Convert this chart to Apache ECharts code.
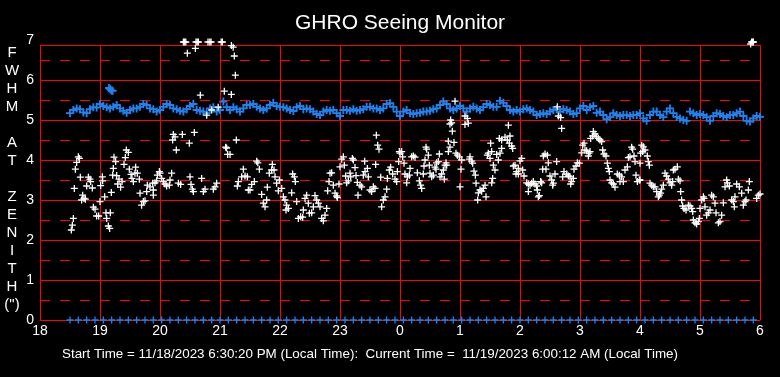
<!DOCTYPE html>
<html style="height: 100%">
<head>
<meta charset="utf-8">
</head>
<body style="height: 100%; margin: 0; background: #000">
<div id="container" style="width: 780px; height: 377px"></div>
<script src="https://cdn.jsdelivr.net/npm/echarts/dist/echarts.min.js"></script>
<script>
// hours since 18:00 of the start day (24 = midnight)
var hourLabels = ['18', '19', '20', '21', '22', '23', '0', '1', '2', '3', '4', '5', '6'];
var yNameLines = ['F', 'W', 'H', 'M', '', 'A', 'T', '', 'Z', 'E', 'N', 'I', 'T', 'H', '(")'];
var titleText = 'GHRO Seeing Monitor';
var footText = 'Start Time = 11/18/2023 6:30:20 PM (Local Time):  Current Time =  11/19/2023 6:00:12 AM (Local Time)';
var frameTop = 6.875;   // upper edge of the plot frame
var frameTopLabel = '7';

// white points: [hour, fwhm]
var seeing = [
  [18.639,4.08],[18.656,4.04],[18.611,3.94],[18.589,3.77],[18.672,3.57],[18.806,3.57],[18.833,3.52],[18.844,3.46],
  [18.572,3.29],[18.778,3.35],[18.872,3.30],[18.711,3.12],[18.733,3.04],[18.694,3.00],[18.756,3.02],[18.889,2.82],
  [18.917,2.77],[18.944,2.60],[18.978,2.60],[18.556,2.54],[18.539,2.37],[18.522,2.25],[19.000,2.96],[19.011,3.36],
  [19.039,3.58],[19.044,3.48],[19.078,3.08],[19.189,3.19],[19.100,2.68],[19.172,2.68],[19.139,2.35],[19.161,2.29],
  [19.111,2.54],[19.233,4.07],[19.261,3.96],[19.439,4.25],[19.472,4.19],[19.422,4.06],[19.400,3.89],[19.222,3.79],
  [19.211,3.62],[19.278,3.61],[19.317,3.52],[19.294,3.40],[19.344,3.32],[19.367,3.46],[19.489,3.77],[19.517,3.64],
  [19.533,3.54],[19.556,3.46],[19.594,3.82],[19.583,3.67],[19.622,3.67],[19.656,3.52],[19.667,3.17],[19.722,2.96],
  [19.694,2.87],[19.750,2.98],[19.778,3.21],[19.789,3.37],[19.833,3.33],[19.878,3.42],[19.889,3.25],[19.917,3.43],
  [19.944,3.48],[19.889,3.12],[19.956,3.62],[19.989,3.71],
  [20.39,6.95],[20.41,6.95],[20.43,6.95],[20.60,6.95],[20.62,6.95],[20.64,6.95],[20.80,6.95],[20.83,6.95],
  [20.85,6.95],[21.02,6.95],[21.04,6.95],[21.19,6.86],[21.22,6.82],[20.456,6.67],[20.589,6.79],[21.239,6.60],
  [21.256,6.12],[20.672,5.62],[21.072,5.72],[21.189,5.64],[20.778,5.12],[20.861,5.25],[20.970,5.32],
  [20.222,4.64],[20.250,4.58],[20.211,4.50],[20.372,4.64],[20.572,4.69],[20.489,4.42],[20.272,4.25],[21.272,4.50],
  [21.094,4.32],[21.110,4.30],[21.128,4.14],[21.167,4.14],
  [20.000,3.67],[20.028,3.54],[20.056,3.46],[20.083,3.40],[20.111,3.35],[20.156,3.37],[20.194,3.67],[20.167,3.50],
  [20.306,3.42],[20.344,3.39],[20.500,3.58],[20.517,3.39],[20.539,3.27],[20.556,3.21],[20.694,3.54],[20.722,3.21],
  [20.750,3.27],[20.889,3.27],[20.917,3.33],[20.944,3.42],
  [21.611,3.97],[21.630,3.93],[21.389,3.77],[21.361,3.58],[21.417,3.60],[21.456,3.58],[21.306,3.46],[21.289,3.35],
  [21.528,3.39],[21.572,3.46],[21.472,3.25],[21.500,3.25],[21.656,3.77],[21.694,3.14],[21.722,2.92],[21.750,2.83],
  [21.778,3.00],[21.789,3.32],[21.822,3.67],[21.872,3.89],[21.861,3.75],[21.900,3.75],[21.917,3.58],[21.944,3.42],
  [21.972,3.23],[21.989,3.50],
  [22.028,3.29],[22.056,3.08],[22.083,3.00],[22.111,2.87],[22.139,2.79],[22.100,2.75],[22.194,3.18],[22.211,3.65],
  [22.239,3.58],[22.256,3.46],[22.278,2.96],[22.306,2.54],[22.344,2.58],[22.378,2.57],[22.389,2.75],[22.417,3.04],
  [22.444,3.12],[22.472,2.92],[22.489,2.67],[22.528,2.68],[22.556,2.83],[22.583,3.11],[22.611,3.00],[22.639,2.92],
  [22.667,2.83],[22.694,2.54],[22.722,2.48],[22.750,2.62],[22.778,2.79],[22.794,3.23],[22.817,3.46],[22.833,3.67],
  [22.861,3.68],[22.889,3.37],[22.917,3.17],[22.944,3.10],[22.956,3.06],[22.983,3.40],[23.000,3.83],[23.028,4.02],
  [23.056,4.08],[23.072,3.87],[23.094,3.60],[23.111,3.43],[23.139,3.48],[23.167,3.67],[23.178,3.58],[23.206,4.04],
  [23.222,4.00],[23.250,3.81],[23.267,3.61],[23.289,3.44],[23.333,3.37],[23.361,3.33],[23.300,3.12],[23.389,3.62],
  [23.417,3.71],[23.456,3.79],[23.411,3.97],[23.472,3.58],[23.500,3.25],[23.528,3.21],[23.556,3.33],[23.583,3.29],
  [23.594,3.89],[23.606,4.62],[23.628,4.37],[23.650,4.27],[23.678,3.57],[23.694,2.83],[23.722,3.00],[23.750,3.08],
  [23.778,3.27],[23.789,3.54],[23.822,3.75],[23.844,3.82],[23.878,3.65],[23.917,3.52],[23.944,3.46],[23.956,3.71],
  [23.978,3.96],[23.989,4.21],
  [24.917,5.47],[24.844,5.00],[24.861,4.93],[24.833,4.90],[24.872,4.72],[24.806,4.47],[24.900,4.44],[24.833,4.32],
  [24.806,4.21],[25.083,5.10],[25.122,5.04],[25.083,4.89],[25.139,4.92],[25.806,4.87],[25.656,4.54],[25.694,4.50],
  [25.750,4.57],[25.789,4.50],[25.833,4.60],[25.822,4.42],[25.861,4.35],[25.878,4.29],[25.511,4.42],[25.694,4.29],
  [25.667,4.17],[25.611,4.14],[25.639,4.00],[25.472,4.17],[25.456,4.12],[25.500,4.04],[25.528,4.21],[25.556,3.87],
  [25.583,3.75],[25.544,3.54],[25.528,3.43],[25.417,3.37],[25.389,3.29],[25.361,3.22],[25.333,3.25],[25.306,3.18],
  [25.294,3.00],[25.433,3.08],[25.267,3.42],[25.233,3.72],[25.256,3.62],[25.167,4.08],[25.194,3.97],[25.211,3.92],
  [25.156,4.02],[25.028,4.00],[25.000,3.33],[25.017,3.77],[24.933,4.17],[24.956,4.12],[24.989,4.08],[24.778,3.87],
  [24.767,3.93],[24.750,3.87],[24.722,3.75],[24.694,3.65],[24.667,3.58],[24.739,3.52],[24.656,4.15],[24.611,3.93],
  [24.639,3.96],[24.583,3.82],[24.600,3.77],[24.556,3.62],[24.528,3.58],[24.500,3.67],[24.489,3.87],[24.472,4.12],
  [24.444,4.27],[24.433,4.32],[24.417,4.00],[24.400,3.85],[24.389,3.65],[24.344,3.37],[24.361,3.29],[24.322,3.48],
  [24.289,3.68],[24.222,4.10],[24.250,4.07],[24.194,4.08],[24.167,3.79],[24.156,3.62],[24.122,3.58],[24.083,3.65],
  [24.111,3.43],[24.067,3.92],[24.028,4.21],[24.044,4.08],[24.000,4.17],[25.917,3.87],[25.889,3.85],[25.944,3.71],
  [25.972,3.65],[25.933,3.65],[25.972,3.79],
  [26.622,5.33],[26.639,5.10],[26.678,5.06],[26.694,4.79],[26.028,4.04],[26.000,3.98],[26.044,3.75],[26.067,3.60],
  [26.111,3.43],[26.139,3.40],[26.167,3.37],[26.194,3.42],[26.222,3.46],[26.250,3.40],[26.278,3.35],[26.139,3.21],
  [26.289,3.25],[26.306,3.08],[26.322,3.11],[26.344,3.46],[26.361,3.43],[26.389,4.10],[26.417,4.15],[26.456,4.12],
  [26.472,3.93],[26.378,3.77],[26.433,3.77],[26.500,3.60],[26.528,3.50],[26.556,3.42],[26.544,3.37],[26.583,3.65],
  [26.611,3.96],[26.711,3.58],[26.733,3.71],[26.778,3.65],[26.806,3.60],[26.833,3.58],[26.844,3.40],[26.861,3.46],
  [26.889,3.54],[26.900,3.77],[26.933,3.85],[26.956,3.93],[26.989,3.92],[27.028,4.18],[27.044,4.37],[27.067,4.42],
  [27.083,4.25],[27.111,4.23],[27.139,4.10],[27.167,4.21],[27.150,4.17],[27.178,4.54],[27.211,4.60],[27.222,4.71],
  [27.250,4.65],[27.278,4.58],[27.306,4.54],[27.333,4.50],[27.361,4.46],[27.378,4.25],[27.400,4.15],[27.433,4.10],
  [27.456,3.92],[27.472,3.79],[27.489,3.71],[27.500,3.50],[27.528,3.43],[27.556,3.40],[27.583,3.32],[27.622,3.65],
  [27.656,3.62],[27.694,3.58],[27.722,3.46],[27.667,3.46],[27.750,3.75],[27.789,3.83],[27.806,4.06],[27.833,4.08],
  [27.861,4.32],[27.878,4.27],[27.900,4.10],[27.917,3.96],[27.933,3.62],[27.956,3.46],[27.989,3.50],
  [29.878,6.95],[29.860,6.95],[29.890,6.95],[29.844,6.90],
  [28.028,4.37],[28.056,4.33],[28.083,4.25],[28.044,4.21],[28.011,4.17],[28.122,4.10],[28.000,3.92],[28.139,3.96],
  [28.156,3.87],[28.000,3.50],[28.167,3.42],[28.194,3.37],[28.222,3.33],[28.250,3.33],[28.278,3.21],[28.306,3.08],
  [28.322,3.12],[28.344,3.17],[28.361,3.27],[28.389,3.37],[28.417,3.67],[28.444,3.60],[28.472,3.52],[28.500,3.43],
  [28.528,3.37],[28.544,3.46],[28.556,3.75],[28.583,3.77],[28.622,3.83],[28.639,3.52],[28.667,3.48],[28.678,3.21],
  [28.694,3.00],[28.711,2.85],[28.733,2.79],[28.767,2.75],[28.806,2.87],[28.833,2.85],[28.861,2.79],[28.878,2.71],
  [28.889,2.50],[28.917,2.43],[28.944,2.40],[28.972,2.46],[28.989,2.54],[29.000,2.79],[29.028,3.00],[29.056,3.08],
  [29.067,3.04],[29.083,2.83],[29.111,2.62],[29.139,2.68],[29.167,2.75],[29.194,3.12],[29.222,3.08],[29.250,2.92],
  [29.267,2.68],[29.306,2.43],[29.333,2.46],[29.361,2.62],[29.389,2.93],[29.417,3.33],[29.444,3.50],[29.489,3.35],
  [29.456,3.43],[29.528,3.00],[29.556,2.96],[29.583,3.08],[29.572,2.83],[29.611,3.40],[29.656,3.33],[29.694,3.17],
  [29.722,2.87],[29.750,2.96],[29.767,3.00],[29.806,3.25],[29.822,3.46],[29.944,3.04],[29.972,3.12],[30.000,3.15]
];

// blue trace, one reading every 1/18 h starting at 18.5 h
var blueStart = 18.5;
var blueStep = 1 / 18;
var blueValues = [
  5.17,5.25,5.29,5.27,5.19,5.17,5.27,5.32,5.31,5.40,5.35,5.32,5.29,5.33,5.375,5.29,5.23,5.18,5.25,5.29,5.29,5.33,5.40,5.375,5.29,5.27,5.21,
  5.25,5.33,5.40,5.375,5.29,5.27,5.23,5.21,5.27,5.35,5.40,5.25,5.23,5.21,5.17,5.29,5.32,5.21,5.25,5.46,5.32,5.25,5.32,5.27,5.21,5.29,5.375,5.375,5.40,5.33,5.29,5.25,5.29,5.375,5.43,5.35,
  5.33,5.32,5.29,5.25,5.225,5.32,5.35,5.27,5.29,5.27,5.21,5.15,5.125,5.21,5.25,5.23,5.25,5.17,5.10,5.25,5.25,5.23,5.27,5.23,5.25,5.27,5.33,5.33,5.29,5.29,5.25,5.29,5.40,5.42,5.33,5.21,
  5.10,5.21,5.25,5.17,5.15,5.17,5.18,5.21,5.21,5.23,5.27,5.29,5.375,5.46,5.40,5.29,5.25,5.29,5.35,5.29,5.21,5.29,5.33,5.29,5.25,5.32,5.40,5.375,5.33,5.33,5.48,5.43,5.35,5.25,5.21,5.25,
  5.21,5.27,5.29,5.25,5.21,5.125,5.15,5.17,5.15,5.21,5.25,5.27,5.21,5.27,5.25,5.21,5.15,5.17,5.29,5.35,5.25,5.32,5.35,5.18,5.21,5.125,5.02,5.07,5.17,5.125,5.10,5.125,5.125,5.10,5.125,5.125,
  5.17,5.04,4.98,5.125,5.21,5.21,5.125,5.07,5.21,5.29,5.17,5.08,5.04,5.00,4.98,5.21,5.17,5.125,5.15,5.125,5.07,4.98,5.10,5.17,5.15,5.10,5.07,5.125,5.125,5.17,5.21,5.10,4.98,4.96,5.04,5.10,5.08
];
var blueExtra = [[19.15, 5.80], [19.17, 5.77], [19.19, 5.74], [19.21, 5.73]];

// bottom row, one reading every 5/36 h starting at 18.5 h
var zeroStart = 18.5;
var zeroStep = 5 / 36;
var zeroValues = [
  0,0,0,0,0,0,0,0,0,0,0,0,0,0,0,0,0,0,0,0,0,0,0,0,0,0,0,0,0,0,0,0,0,0,0,0,0,0,0,0,0,
  0,0,0,0,0,0,0,0,0,0,0,0,0,0,0,0,0,0,0,0,0,0,0,0,0,0,0,0,0,0,0,0,0,0,0,0,0,0,0,0,0,0
];

var blueData = blueValues.map(function (v, i) { return [blueStart + i * blueStep, v]; }).concat(blueExtra);
var zeroData = zeroValues.map(function (v, i) { return [zeroStart + i * zeroStep, v]; });

var plusThin = 'path://M2.85,0h1.3v2.85h2.85v1.3h-2.85v2.85h-1.3v-2.85h-2.85v-1.3h2.85z';
var plusBold = 'path://M2.7,0h1.6v2.7h2.7v1.6h-2.7v2.7h-1.6v-2.7h-2.7v-1.6h2.7z';
var red = '#ff0000';
var blue = '#1e82f0';
var font = '"Liberation Sans", Arial, sans-serif';

var myChart = echarts.init(document.getElementById('container'));
var option = {
    backgroundColor: '#000',
    animation: false,
    title: {
        text: titleText,
        left: 290,
        top: 8,
        textStyle: { color: '#fff', fontSize: 21, fontWeight: 'normal', fontFamily: font }
    },
    grid: { left: 40, right: 20, top: 45, bottom: 57 },
    xAxis: {
        type: 'value',
        min: 18,
        max: 30,
        interval: 1,
        axisLine: { lineStyle: { color: red, width: 1 } },
        axisTick: { show: false },
        axisLabel: {
            color: '#fff', fontSize: 14, fontFamily: font, margin: 4,
            formatter: function (v) { return hourLabels[Math.round(v - 18)]; }
        },
        splitLine: { show: true, lineStyle: { color: red, width: 1 } }
    },
    yAxis: [
        {
            type: 'value',
            min: 0,
            max: frameTop,
            interval: 1,
            axisLine: { show: false },
            axisTick: { show: false },
            axisLabel: {
                color: '#fff', fontSize: 14, fontFamily: font, margin: 6,
                showMaxLabel: true,
                formatter: function (v) { return v === frameTop ? '{t|' + frameTopLabel + '}' : String(v); },
                rich: { t: { color: '#fff', fontSize: 14, fontFamily: font, padding: [0, 0, 10, 0] } }
            },
            splitLine: { show: true, showMaxLine: true, lineStyle: { color: red, width: 1 } }
        },
        {
            // half-unit dashed grid
            type: 'value',
            position: 'left',
            min: 0,
            max: frameTop,
            interval: 0.5,
            axisLine: { show: false },
            axisTick: { show: false },
            axisLabel: { show: false },
            splitLine: { show: true, showMaxLine: false, lineStyle: { color: red, width: 1, type: [10, 10], dashOffset: 0 } }
        }
    ],
    graphic: [
        {
            type: 'text', x: 12, y: 44,
            style: {
                text: yNameLines.join('\n'), fill: '#fff', font: '15px ' + font,
                lineHeight: 18, align: 'center'
            }
        },
        {
            type: 'text', left: 62, top: 348,
            style: { text: footText, fill: '#fff', font: '13.4px ' + font }
        }
    ],
    series: [
        {
            type: 'scatter',
            data: zeroData,
            symbol: plusThin,
            symbolSize: 7,
            clip: false,
            itemStyle: { color: blue, opacity: 1 }
        },
        {
            type: 'scatter',
            data: blueData,
            symbol: plusBold,
            symbolSize: 8,
            clip: false,
            itemStyle: { color: blue, opacity: 1 }
        },
        {
            type: 'scatter',
            data: seeing,
            symbol: plusThin,
            symbolSize: 7,
            clip: false,
            itemStyle: { color: '#fff', opacity: 1 }
        }
    ]
};
myChart.setOption(option);
</script>
</body>
</html>
